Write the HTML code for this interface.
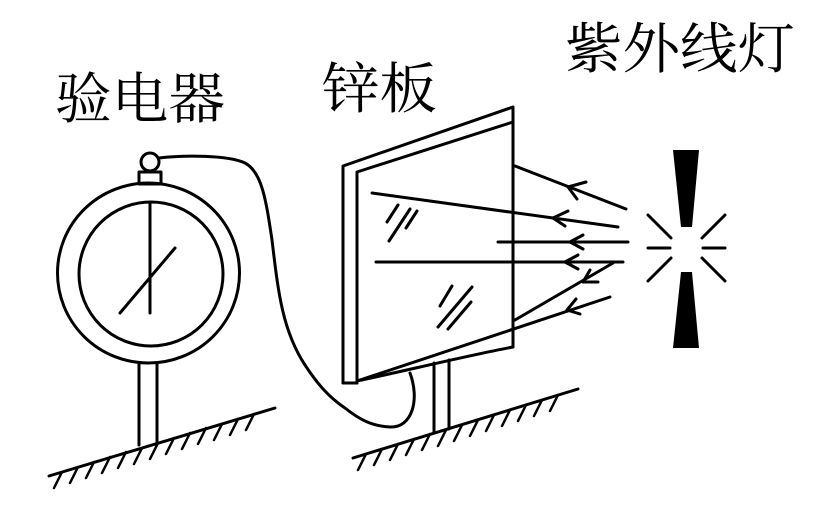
<!DOCTYPE html>
<html><head><meta charset="utf-8"><style>
html,body{margin:0;padding:0;background:#fff;}
svg{display:block;}
text{font-family:"Liberation Serif","Noto Serif CJK SC",serif;font-size:55px;fill:#000;}
</style></head><body>
<svg width="827" height="506" viewBox="0 0 827 506" xmlns="http://www.w3.org/2000/svg">
<g fill="none" stroke="#000" stroke-width="3" stroke-linecap="round" stroke-linejoin="round">
<text x="55" y="118" textLength="170" lengthAdjust="spacingAndGlyphs" stroke="none">验电器</text>
<text x="322" y="108" textLength="115" lengthAdjust="spacingAndGlyphs" stroke="none">锌板</text>
<text x="565" y="68" textLength="230" lengthAdjust="spacingAndGlyphs" stroke="none">紫外线灯</text>

<!-- electroscope -->
<ellipse cx="148.5" cy="273" rx="91" ry="90"/>
<circle cx="151" cy="274" r="72"/>
<line x1="150" y1="204" x2="150" y2="313"/>
<line x1="120" y1="313" x2="175" y2="248"/>
<rect x="139" y="172" width="22" height="12"/>
<circle cx="150" cy="162" r="9"/>
<line x1="139" y1="363" x2="139" y2="445"/>
<line x1="157" y1="363" x2="157" y2="442"/>
<line x1="49" y1="476" x2="275" y2="408"/>
<g stroke-width="2.5">
<line x1="62" y1="472" x2="54" y2="488"/><line x1="78" y1="467" x2="70" y2="483"/><line x1="94" y1="462" x2="86" y2="478"/><line x1="110" y1="457" x2="102" y2="473"/><line x1="126" y1="452" x2="118" y2="468"/><line x1="142" y1="448" x2="134" y2="464"/><line x1="158" y1="443" x2="150" y2="459"/><line x1="174" y1="438" x2="166" y2="454"/><line x1="190" y1="433" x2="182" y2="449"/><line x1="206" y1="428" x2="198" y2="444"/><line x1="222" y1="424" x2="214" y2="440"/><line x1="238" y1="419" x2="230" y2="435"/><line x1="254" y1="414" x2="246" y2="430"/>
</g>

<!-- wire -->
<path d="M159,158 C185,155 228,155 245,163 C262,172 266,200 272,240 C278,290 282,330 305,365 C318,385 330,398 345,408 C360,420 372,426 390,427 C412,428 420,400 410,373"/>

<!-- plate -->
<path d="M343,383 L343,166 L513,107 L513,347"/>
<path d="M357,383 L357,172 L513,122"/>
<line x1="343" y1="383" x2="357" y2="383"/>
<path d="M357,381 C400,372 470,355 513,347"/>
<line x1="357" y1="381" x2="610" y2="297"/>
<line x1="515" y1="320" x2="613" y2="263"/>
<!-- hatches -->
<line x1="398" y1="205" x2="387" y2="222"/><line x1="410" y1="209" x2="389" y2="241"/>
<line x1="417" y1="211" x2="406" y2="228"/>
<line x1="472" y1="287" x2="438" y2="327"/><line x1="471" y1="302" x2="448" y2="329"/><line x1="452" y1="286" x2="440" y2="306"/>

<!-- stand -->
<line x1="434" y1="363" x2="434" y2="432"/>
<line x1="449" y1="360" x2="449" y2="429"/>
<line x1="353" y1="458" x2="578" y2="389"/>
<g stroke-width="2.5">
<line x1="366" y1="454" x2="358" y2="470"/><line x1="382" y1="449" x2="374" y2="465"/><line x1="398" y1="444" x2="390" y2="460"/><line x1="414" y1="439" x2="406" y2="455"/><line x1="430" y1="434" x2="422" y2="450"/><line x1="446" y1="430" x2="438" y2="446"/><line x1="462" y1="425" x2="454" y2="441"/><line x1="478" y1="420" x2="470" y2="436"/><line x1="494" y1="415" x2="486" y2="431"/><line x1="510" y1="410" x2="502" y2="426"/><line x1="526" y1="405" x2="518" y2="421"/><line x1="542" y1="400" x2="534" y2="416"/><line x1="558" y1="395" x2="550" y2="411"/>
</g>

<!-- rays -->
<line x1="515" y1="166" x2="626" y2="209"/>
<line x1="372" y1="193" x2="618" y2="227"/>
<line x1="498" y1="242" x2="628" y2="242"/>
<line x1="376" y1="262" x2="623" y2="262"/>
<!-- arrowheads -->
<path d="M568,187 L586,182 M568,187 L577,199"/>
<path d="M553,218 L568,211 M553,218 L565,226"/>
<path d="M570,242 L583,235 M570,242 L583,249"/>
<path d="M565,262 L578,255 M565,262 L578,269"/>
<path d="M583,282 L590,270 M583,282 L598,282"/>
<path d="M567,310 L576,299 M567,310 L580,314"/>

<!-- lamp -->
<polygon points="673,150 699,150 692,227 681,227" fill="#000" stroke="none"/>
<polygon points="681,272 692,272 699,348 673,348" fill="#000" stroke="none"/>
<line x1="648" y1="248" x2="670" y2="248"/>
<line x1="703" y1="248" x2="725" y2="248"/>
<line x1="648" y1="215" x2="671" y2="238"/>
<line x1="725" y1="215" x2="702" y2="238"/>
<line x1="648" y1="281" x2="671" y2="258"/>
<line x1="725" y1="281" x2="702" y2="258"/>
</g>
</svg>
</body></html>
